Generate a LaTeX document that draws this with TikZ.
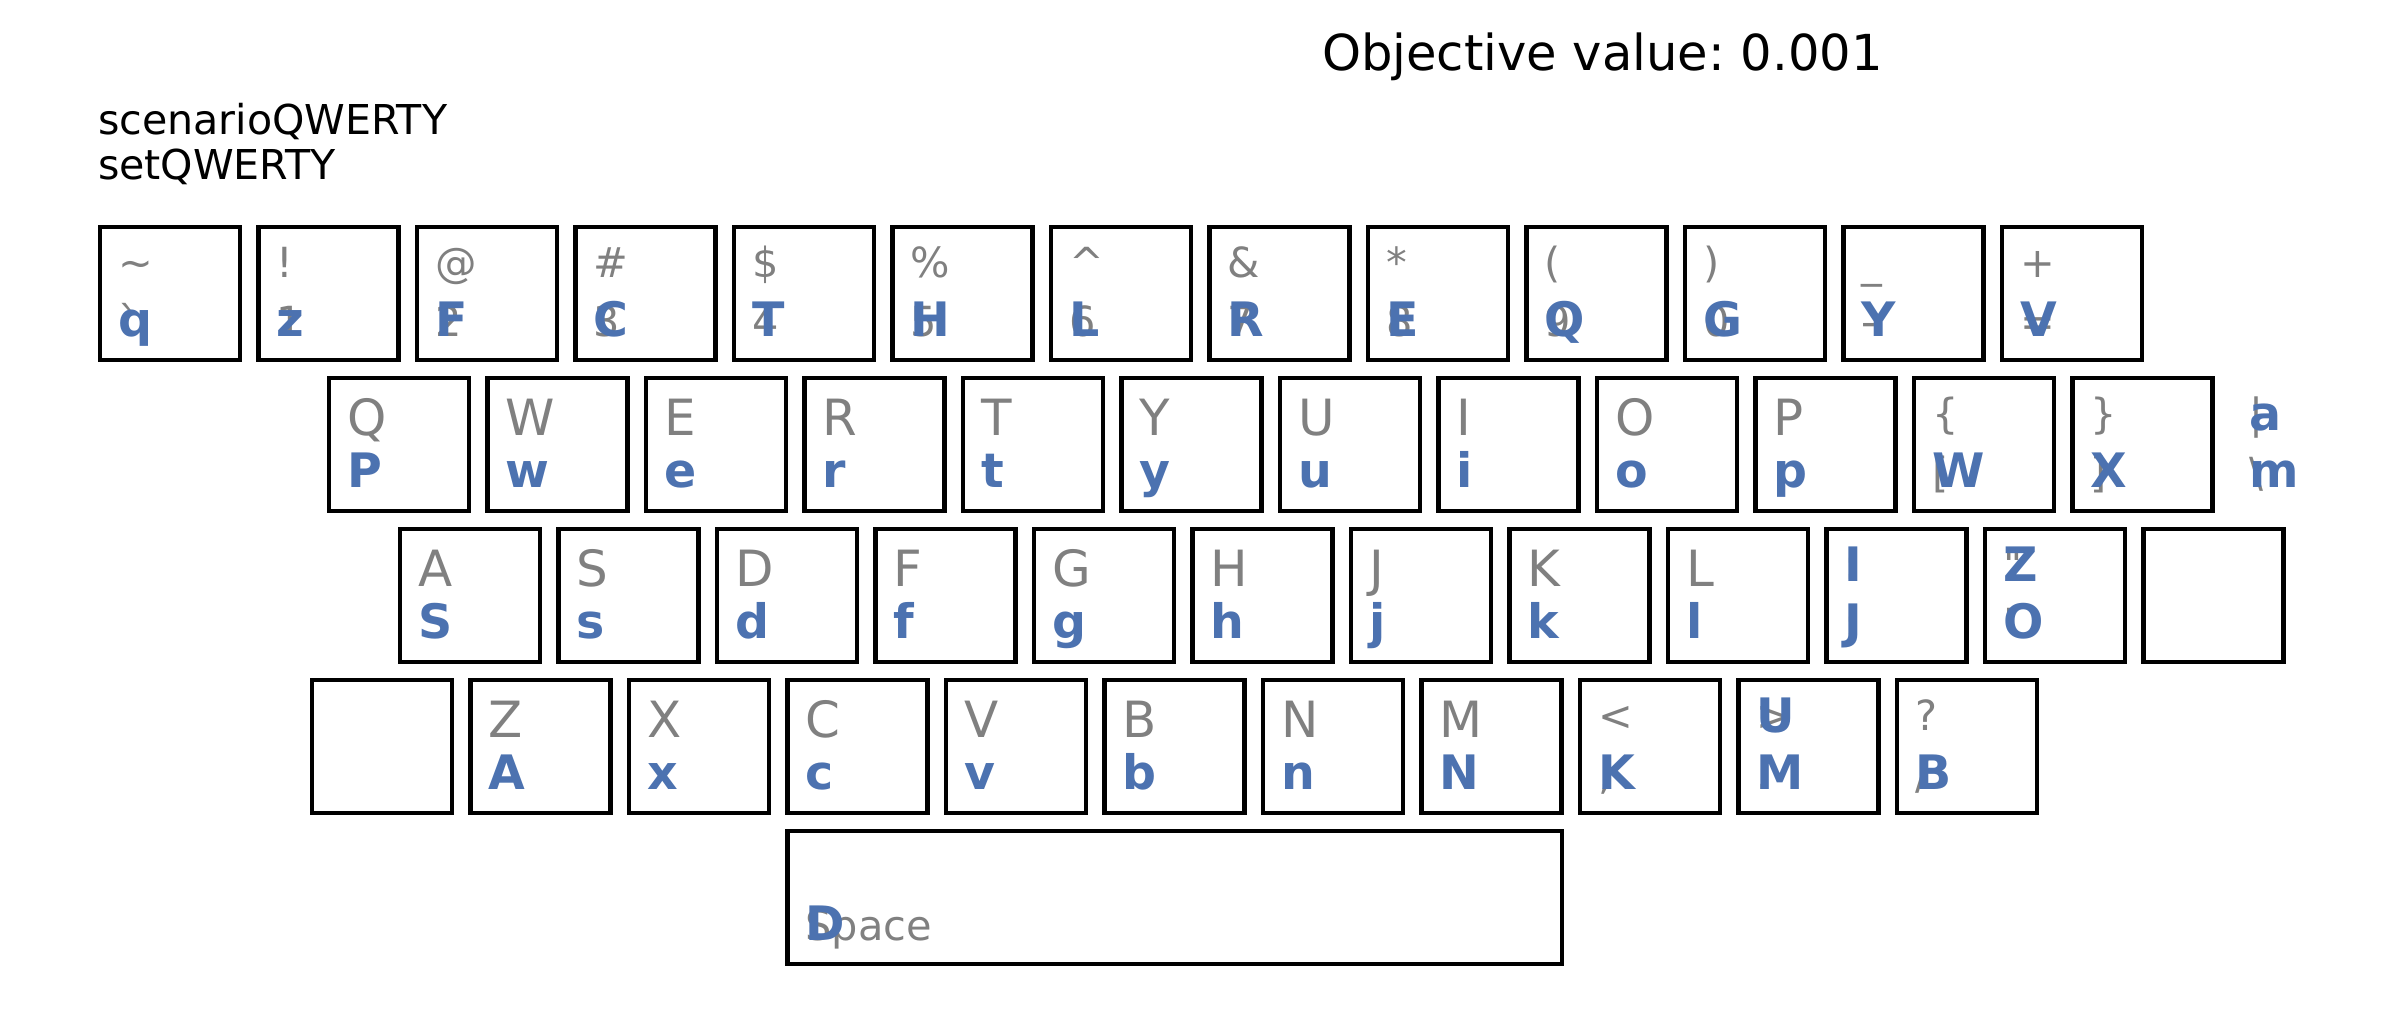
\documentclass[tikz,border=0pt]{standalone}
\usepackage{fontspec}
\setmainfont{DejaVu Sans}
\usetikzlibrary{calc}
\frenchspacing
\definecolor{labgray}{RGB}{128,128,128}
\definecolor{labblue}{RGB}{76,114,176}
\tikzset{
  keybox/.style={draw=black, line width=1.25pt, minimum width=1.4cm, minimum height=1.33cm, inner sep=0pt, outer sep=0pt, anchor=north west},
  spacebox/.style={keybox, minimum width=7.74cm},
  lab/.style={anchor=base west, inner sep=0pt, outer sep=0pt},
  gbig/.style={lab, text=labgray, font=\fontsize{14.2}{17}\selectfont},
  gsmall/.style={lab, text=labgray, font=\fontsize{11.8}{14}\selectfont},
  blu/.style={lab, text=labblue, font=\fontsize{13.5}{16}\selectfont\bfseries},
  plain/.style={lab, text=black}
}
\newcommand\TopS[2]{\node[gsmall] (#1-ts) at ($(#1.north west)+(18,50)$) {#2};}
\newcommand\TopB[2]{\node[gbig] (#1-tb) at ($(#1.north west)+(18,57)$) {#2};}
\newcommand\BotS[2]{\node[gsmall] (#1-bs) at ($(#1.north west)+(18,109)$) {#2};}
\newcommand\BluT[2]{\node[blu] (#1-bt) at ($(#1.north west)+(18,52)$) {#2};}
\newcommand\BluB[2]{\node[blu] (#1-bb) at ($(#1.north west)+(18,109)$) {#2};}
\begin{document}
\begin{tikzpicture}[x=0.01cm,y=-0.01cm]
\useasboundingbox (0,0) rectangle (2385,1029);
% header
\node[plain, font=\fontsize{14.1}{17}\selectfont] (title) at (1322,70) {Objective value: 0.001};
\node[plain, font=\fontsize{11.7}{14}\selectfont] (scen) at (98,134) {scenarioQWERTY};
\node[plain, font=\fontsize{11.7}{14}\selectfont] (set) at (98,179) {setQWERTY};
% row 1
\node[keybox] (r1k1) at (100,227) {};
\node[keybox] (r1k2) at (258.5,227) {};
\node[keybox] (r1k3) at (417,227) {};
\node[keybox] (r1k4) at (575.5,227) {};
\node[keybox] (r1k5) at (734,227) {};
\node[keybox] (r1k6) at (892.5,227) {};
\node[keybox] (r1k7) at (1051,227) {};
\node[keybox] (r1k8) at (1209.5,227) {};
\node[keybox] (r1k9) at (1368,227) {};
\node[keybox] (r1k10) at (1526.5,227) {};
\node[keybox] (r1k11) at (1685,227) {};
\node[keybox] (r1k12) at (1843.5,227) {};
\node[keybox] (r1k13) at (2002,227) {};
\TopS{r1k1}{\textasciitilde}\BotS{r1k1}{\textasciigrave}\BluB{r1k1}{q}
\TopS{r1k2}{!}\BotS{r1k2}{1}\BluB{r1k2}{z}
\TopS{r1k3}{@}\BotS{r1k3}{2}\BluB{r1k3}{F}
\TopS{r1k4}{\#}\BotS{r1k4}{3}\BluB{r1k4}{C}
\TopS{r1k5}{\$}\BotS{r1k5}{4}\BluB{r1k5}{T}
\TopS{r1k6}{\%}\BotS{r1k6}{5}\BluB{r1k6}{H}
\TopS{r1k7}{\textasciicircum}\BotS{r1k7}{6}\BluB{r1k7}{L}
\TopS{r1k8}{\&}\BotS{r1k8}{7}\BluB{r1k8}{R}
\TopS{r1k9}{*}\BotS{r1k9}{8}\BluB{r1k9}{E}
\TopS{r1k10}{(}\BotS{r1k10}{9}\BluB{r1k10}{Q}
\TopS{r1k11}{)}\BotS{r1k11}{0}\BluB{r1k11}{G}
\TopS{r1k12}{\_}\BotS{r1k12}{-}\BluB{r1k12}{Y}
\TopS{r1k13}{+}\BotS{r1k13}{=}\BluB{r1k13}{V}
% row 2
\node[keybox] (r2k1) at (329,378) {};
\node[keybox] (r2k2) at (487.5,378) {};
\node[keybox] (r2k3) at (646,378) {};
\node[keybox] (r2k4) at (804.5,378) {};
\node[keybox] (r2k5) at (963,378) {};
\node[keybox] (r2k6) at (1121.5,378) {};
\node[keybox] (r2k7) at (1280,378) {};
\node[keybox] (r2k8) at (1438.5,378) {};
\node[keybox] (r2k9) at (1597,378) {};
\node[keybox] (r2k10) at (1755.5,378) {};
\node[keybox] (r2k11) at (1914,378) {};
\node[keybox] (r2k12) at (2072.5,378) {};
\node[keybox, draw=none] (r2k13) at (2231,378) {};
\TopB{r2k1}{Q}\BluB{r2k1}{P}
\TopB{r2k2}{W}\BluB{r2k2}{w}
\TopB{r2k3}{E}\BluB{r2k3}{e}
\TopB{r2k4}{R}\BluB{r2k4}{r}
\TopB{r2k5}{T}\BluB{r2k5}{t}
\TopB{r2k6}{Y}\BluB{r2k6}{y}
\TopB{r2k7}{U}\BluB{r2k7}{u}
\TopB{r2k8}{I}\BluB{r2k8}{i}
\TopB{r2k9}{O}\BluB{r2k9}{o}
\TopB{r2k10}{P}\BluB{r2k10}{p}
\TopS{r2k11}{\{}\BotS{r2k11}{[}\BluB{r2k11}{W}
\TopS{r2k12}{\}}\BotS{r2k12}{]}\BluB{r2k12}{X}
\TopS{r2k13}{|}\BotS{r2k13}{\textbackslash}\BluT{r2k13}{a}\BluB{r2k13}{m}
% row 3
\node[keybox] (r3k1) at (400,529) {};
\node[keybox] (r3k2) at (558.5,529) {};
\node[keybox] (r3k3) at (717,529) {};
\node[keybox] (r3k4) at (875.5,529) {};
\node[keybox] (r3k5) at (1034,529) {};
\node[keybox] (r3k6) at (1192.5,529) {};
\node[keybox] (r3k7) at (1351,529) {};
\node[keybox] (r3k8) at (1509.5,529) {};
\node[keybox] (r3k9) at (1668,529) {};
\node[keybox] (r3k10) at (1826.5,529) {};
\node[keybox] (r3k11) at (1985,529) {};
\node[keybox] (r3k12) at (2143.5,529) {};
\TopB{r3k1}{A}\BluB{r3k1}{S}
\TopB{r3k2}{S}\BluB{r3k2}{s}
\TopB{r3k3}{D}\BluB{r3k3}{d}
\TopB{r3k4}{F}\BluB{r3k4}{f}
\TopB{r3k5}{G}\BluB{r3k5}{g}
\TopB{r3k6}{H}\BluB{r3k6}{h}
\TopB{r3k7}{J}\BluB{r3k7}{j}
\TopB{r3k8}{K}\BluB{r3k8}{k}
\TopB{r3k9}{L}\BluB{r3k9}{l}
\TopS{r3k10}{:}\BotS{r3k10}{;}\BluT{r3k10}{I}\BluB{r3k10}{J}
\TopS{r3k11}{\textquotedbl}\BotS{r3k11}{\textquotesingle}\BluT{r3k11}{Z}\BluB{r3k11}{O}
% row 4
\node[keybox] (r4k1) at (312,680) {};
\node[keybox] (r4k2) at (470.5,680) {};
\node[keybox] (r4k3) at (629,680) {};
\node[keybox] (r4k4) at (787.5,680) {};
\node[keybox] (r4k5) at (946,680) {};
\node[keybox] (r4k6) at (1104.5,680) {};
\node[keybox] (r4k7) at (1263,680) {};
\node[keybox] (r4k8) at (1421.5,680) {};
\node[keybox] (r4k9) at (1580,680) {};
\node[keybox] (r4k10) at (1738.5,680) {};
\node[keybox] (r4k11) at (1897,680) {};
\TopB{r4k2}{Z}\BluB{r4k2}{A}
\TopB{r4k3}{X}\BluB{r4k3}{x}
\TopB{r4k4}{C}\BluB{r4k4}{c}
\TopB{r4k5}{V}\BluB{r4k5}{v}
\TopB{r4k6}{B}\BluB{r4k6}{b}
\TopB{r4k7}{N}\BluB{r4k7}{n}
\TopB{r4k8}{M}\BluB{r4k8}{N}
\TopS{r4k9}{<}\BotS{r4k9}{,}\BluB{r4k9}{K}
\TopS{r4k10}{>}\BotS{r4k10}{.}\BluT{r4k10}{U}\BluB{r4k10}{M}
\TopS{r4k11}{?}\BotS{r4k11}{/}\BluB{r4k11}{B}
% space bar
\node[spacebox] (space) at (787.5,831) {};
\BotS{space}{Space}\BluB{space}{D}
\end{tikzpicture}
\end{document}
